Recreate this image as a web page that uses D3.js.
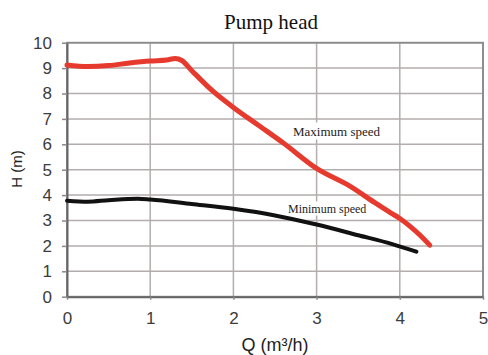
<!DOCTYPE html>
<html>
<head>
<meta charset="utf-8">
<script src="https://cdn.jsdelivr.net/npm/d3@7"></script>
<style>
  html, body { margin: 0; padding: 0; background: #fff; }
  svg { display: block; }
</style>
</head>
<body>
<svg id="chart" width="488" height="355"></svg>
<script>
const titleText = "Pump head";
const xLabel = "Q (m³/h)";
const yLabel = "H (m)";
const xTicks = [0, 1, 2, 3, 4, 5];
const yTicks = [0, 1, 2, 3, 4, 5, 6, 7, 8, 9, 10];

const maxQ = [0, 0.25, 0.5, 0.75, 1.0, 1.2, 1.3, 1.38, 1.5, 1.75, 2.0, 2.3, 2.6, 3.0, 3.4, 3.7, 3.9, 4.0, 4.12, 4.25, 4.36];
const maxH = [9.12, 9.06, 9.1, 9.2, 9.28, 9.32, 9.38, 9.3, 8.9, 8.1, 7.45, 6.75, 6.05, 5.05, 4.35, 3.7, 3.28, 3.08, 2.78, 2.4, 2.03];

const minQ = [0, 0.25, 0.5, 0.85, 1.0, 1.5, 2.0, 2.5, 3.0, 3.5, 3.9, 4.2];
const minH = [3.78, 3.74, 3.8, 3.86, 3.83, 3.65, 3.46, 3.2, 2.84, 2.42, 2.08, 1.77];

const seriesLabels = ["Maximum speed", "Minimum speed"];

const svg = d3.select("#chart");
const x = d3.scaleLinear().domain([0, 5]).range([67, 483]);
const y = d3.scaleLinear().domain([0, 10]).range([296.7, 42.7]);

// grid
const grid = svg.append("g");
grid.selectAll("line.h").data(yTicks).join("line")
  .attr("x1", x(0)).attr("x2", x(5))
  .attr("y1", d => y(d)).attr("y2", d => y(d))
  .attr("stroke", "#b3adad").attr("stroke-width", 1.5);
grid.selectAll("line.v").data(xTicks).join("line")
  .attr("y1", y(0)).attr("y2", y(10))
  .attr("x1", d => x(d)).attr("x2", d => x(d))
  .attr("stroke", "#b3adad").attr("stroke-width", 1.5);

// border
svg.append("rect")
  .attr("x", x(0)).attr("y", y(10))
  .attr("width", x(5) - x(0)).attr("height", y(0) - y(10))
  .attr("fill", "none").attr("stroke", "#8a8a8a").attr("stroke-width", 1.8);

// axes
const yAxis = svg.append("g").attr("transform", `translate(${x(0)},0)`)
  .call(d3.axisLeft(y).tickValues(yTicks).tickFormat(d3.format("d")).tickSize(5).tickPadding(10).tickSizeOuter(0));
const xAxis = svg.append("g").attr("transform", `translate(0,${y(0)})`)
  .call(d3.axisBottom(x).tickValues(xTicks).tickFormat(d3.format("d")).tickSize(3).tickPadding(12).tickSizeOuter(0));
[yAxis, xAxis].forEach(g => {
  g.select(".domain").attr("stroke", "#666").attr("stroke-width", 2);
  g.selectAll(".tick line").attr("stroke", "#888").attr("stroke-width", 1.5);
  g.selectAll(".tick text")
    .attr("fill", "#3c3c3c")
    .style("font-family", "'Liberation Sans', Arial, sans-serif")
    .style("font-size", "17px");
});

// series labels with white boxes (behind curves)
function label(text, lx, cy, size, pad) {
  const g = svg.append("g");
  const t = g.append("text")
    .attr("x", lx).attr("y", cy)
    .attr("dominant-baseline", "central")
    .style("font-family", "'Liberation Serif', 'Times New Roman', serif")
    .style("font-size", size + "px")
    .attr("fill", "#222")
    .text(text);
  const b = t.node().getBBox();
  g.insert("rect", "text")
    .attr("x", b.x - pad[0]).attr("y", b.y - pad[1])
    .attr("width", b.width + pad[0] * 2).attr("height", b.height + pad[1] * 2)
    .attr("fill", "#fff");
}
label(seriesLabels[0], 293, 131, 13, [12, 1]);
label(seriesLabels[1], 288, 208.5, 12, [9, 0]);

// curves
const line = d3.line().x(d => x(d[0])).y(d => y(d[1])).curve(d3.curveMonotoneX);
svg.append("path")
  .attr("d", line(maxQ.map((q, i) => [q, maxH[i]])))
  .attr("fill", "none").attr("stroke", "#e63a2e").attr("stroke-width", 5)
  .attr("stroke-linejoin", "round").attr("stroke-linecap", "round");
svg.append("path")
  .attr("d", line(minQ.map((q, i) => [q, minH[i]])))
  .attr("fill", "none").attr("stroke", "#111").attr("stroke-width", 4)
  .attr("stroke-linejoin", "round").attr("stroke-linecap", "round");

// title
svg.append("text")
  .attr("x", 271).attr("y", 29)
  .attr("text-anchor", "middle")
  .style("font-family", "'Liberation Serif', 'Times New Roman', serif")
  .style("font-size", "21px")
  .attr("fill", "#111")
  .text(titleText);

// axis titles
svg.append("text")
  .attr("x", 275).attr("y", 351)
  .attr("text-anchor", "middle")
  .style("font-family", "'Liberation Sans', Arial, sans-serif")
  .style("font-size", "18px")
  .attr("fill", "#222")
  .text(xLabel);
svg.append("text")
  .attr("transform", "translate(22,169) rotate(-90)")
  .attr("text-anchor", "middle")
  .style("font-family", "'Liberation Sans', Arial, sans-serif")
  .style("font-size", "15px")
  .attr("fill", "#222")
  .text(yLabel);
</script>
</body>
</html>
